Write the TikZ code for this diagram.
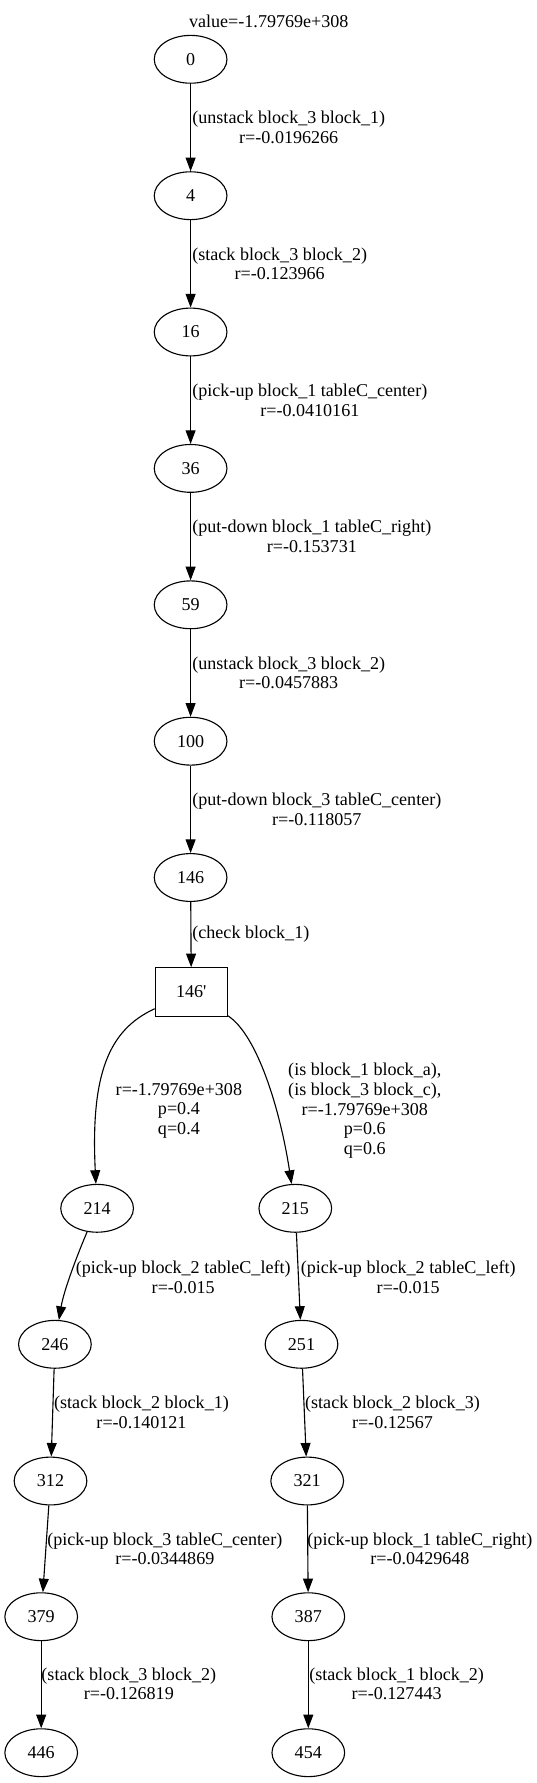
\documentclass[tikz,border=0pt]{standalone}
\usepackage{fontspec}
\setmainfont{Liberation Serif}
\usetikzlibrary{shapes.geometric,arrows.meta}
\begin{document}
\begin{tikzpicture}[x=0.7634pt,y=-0.7634pt,
 every node/.style={font=\fontsize{13.8}{15}\selectfont},
 st/.style={ellipse,draw,line width=0.85pt,minimum width=55.5pt,minimum height=36.5pt,inner sep=0pt},
 ch/.style={rectangle,draw,line width=0.85pt,minimum width=55pt,minimum height=37pt,inner sep=0pt},
 lbl/.style={align=center,inner sep=0pt},
 lblw/.style={align=center,inner sep=0pt,anchor=west},
 conn/.style={draw,line width=0.85pt,-{Triangle[length=10.4pt,width=7.6pt]}}]
\useasboundingbox (0,0) rectangle (537,1783);
\node[lbl] (title) at (268.8,21) {value=-1.79769e+308};
\node[st] (n0) at (190.6,59.3) {0};
\node[st] (n4) at (190.6,195.7) {4};
\node[st] (n16) at (190.6,332) {16};
\node[st] (n36) at (190.6,468.4) {36};
\node[st] (n59) at (190.6,604.8) {59};
\node[st] (n100) at (190.6,741.2) {100};
\node[st] (n146) at (190.6,877.5) {146};
\node[ch] (n146p) at (191.3,992) {146\textquotesingle};
\node[st] (n214) at (97.1,1208.3) {214};
\node[st] (n215) at (295.3,1208.3) {215};
\node[st] (n246) at (54.9,1344.3) {246};
\node[st] (n251) at (301.5,1344.3) {251};
\node[st] (n312) at (50.5,1481) {312};
\node[st] (n321) at (307.2,1481) {321};
\node[st] (n379) at (41.2,1616.7) {379};
\node[st] (n387) at (308.3,1616.7) {387};
\node[st] (n446) at (41.2,1752.7) {446};
\node[st] (n454) at (308.3,1752.7) {454};

\draw[conn] (n0) -- (n4);
\draw[conn] (n4) -- (n16);
\draw[conn] (n16) -- (n36);
\draw[conn] (n36) -- (n59);
\draw[conn] (n59) -- (n100);
\draw[conn] (n100) -- (n146);
\draw[conn] (n146) -- (n146p);
\draw[conn] (n146p) .. controls (108.2,1030) and (90.6,1075) .. (n214);
\draw[conn] (n146p) .. controls (257.5,1035) and (280.2,1110) .. (n215);
\draw[conn] (n214) .. controls (77.3,1255) and (63.9,1290) .. (n246);
\draw[conn] (n215) -- (n251);
\draw[conn] (n246) -- (n312);
\draw[conn] (n251) -- (n321);
\draw[conn] (n312) -- (n379);
\draw[conn] (n321) -- (n387);
\draw[conn] (n379) -- (n446);
\draw[conn] (n387) -- (n454);

\node[lblw] (l1) at (192.1,127.5) {(unstack block\_3 block\_1)\\r=-0.0196266};
\node[lblw] (l2) at (192.1,263.7) {(stack block\_3 block\_2)\\r=-0.123966};
\node[lblw] (l3) at (192.1,400.2) {(pick-up block\_1 tableC\_center)\\r=-0.0410161};
\node[lblw] (l4) at (192.1,536.6) {(put-down block\_1 tableC\_right)\\r=-0.153731};
\node[lblw] (l5) at (192.1,673) {(unstack block\_3 block\_2)\\r=-0.0457883};
\node[lblw] (l6) at (192.1,809.4) {(put-down block\_3 tableC\_center)\\r=-0.118057};
\node[lblw] (l7) at (192.1,934) {(check block\_1)};
\node[lbl] (l8) at (178.9,1110.7) {r=-1.79769e+308\\p=0.4\\q=0.4};
\node[lbl] (l9) at (364.8,1110.7) {(is block\_1 block\_a),\\(is block\_3 block\_c),\\r=-1.79769e+308\\p=0.6\\q=0.6};
\node[lblw] (l10) at (75.5,1277) {(pick-up block\_2 tableC\_left)\\r=-0.015};
\node[lblw] (l11) at (300.5,1277) {(pick-up block\_2 tableC\_left)\\r=-0.015};
\node[lblw] (l12) at (53.9,1412.5) {(stack block\_2 block\_1)\\r=-0.140121};
\node[lblw] (l13) at (304.9,1412.5) {(stack block\_2 block\_3)\\r=-0.12567};
\node[lblw] (l14) at (47.1,1548.8) {(pick-up block\_3 tableC\_center)\\r=-0.0344869};
\node[lblw] (l15) at (307.2,1548.8) {(pick-up block\_1 tableC\_right)\\r=-0.0429648};
\node[lblw] (l16) at (41.2,1684) {(stack block\_3 block\_2)\\r=-0.126819};
\node[lblw] (l17) at (309,1684) {(stack block\_1 block\_2)\\r=-0.127443};
\end{tikzpicture}
\end{document}
